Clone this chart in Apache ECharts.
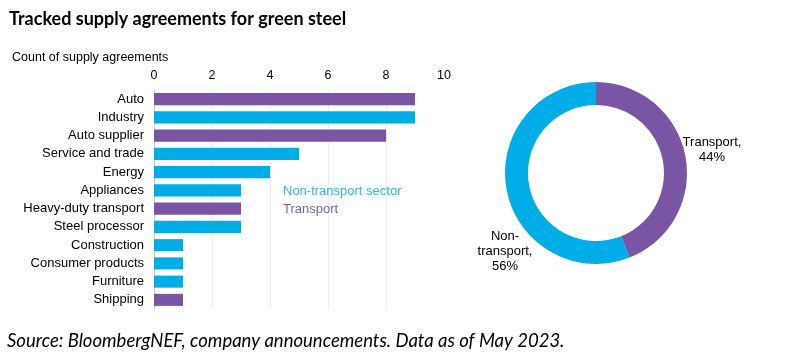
<!DOCTYPE html>
<html>
<head>
<meta charset="utf-8">
<script src="https://cdn.jsdelivr.net/npm/echarts@6/dist/echarts.min.js"></script>
<style>
html,body{margin:0;padding:0;background:#fff;}
#chart{width:812px;height:362px;}
</style>
</head>
<body>
<div id="chart"></div>
<script>
const categories = ['Auto','Industry','Auto supplier','Service and trade','Energy','Appliances','Heavy-duty transport','Steel processor','Construction','Consumer products','Furniture','Shipping'];
const counts = [9,9,8,5,4,3,3,3,1,1,1,1];
const sectors = ['T','N','T','N','N','N','T','N','N','N','N','T'];
const xTicks = [0,2,4,6,8,10];
const pieNames = ['Transport','Non-transport'];
const pieValues = [44,56];

const PURPLE = '#7A55A3';
const BLUE = '#00ADE6';

const nonTransport = counts.map((v,i)=> sectors[i]==='N' ? v : '-');
const transport = counts.map((v,i)=> sectors[i]==='T' ? v : '-');

const chart = echarts.init(document.getElementById('chart'));
chart.setOption({
  backgroundColor:'#fff',
  animation:false,
  title:[
    {text:'Tracked supply agreements for green steel', left:4, top:5,
     textStyle:{fontFamily:'Lato', fontWeight:'bold', fontSize:18, color:'#000'}},
    {text:'Source: BloombergNEF, company announcements. Data as of May 2023.', left:2, top:327,
     textStyle:{fontFamily:'Lato', fontStyle:'italic', fontWeight:'normal', fontSize:18.5, color:'#000'}},
    {text:'Count of supply agreements', left:7, top:46,
     textStyle:{fontFamily:'Liberation Sans', fontWeight:'normal', fontSize:12.5, color:'#000'}}
  ],
  legend:{
    orient:'vertical', left:273, top:180, itemGap:5, icon:'none', itemWidth:0, itemHeight:0,
    selectedMode:false,
    data:[
      {name:'Non-transport sector', textStyle:{color:'#3AB4D8'}},
      {name:'Transport', textStyle:{color:'#7E63A2'}}
    ],
    textStyle:{fontFamily:'Liberation Sans', fontSize:13}
  },
  grid:{left:154, top:90, width:290, height:219, containLabel:false},
  xAxis:{
    type:'value', position:'top', min:0, max:10, interval:2,
    axisLine:{show:false}, axisTick:{show:false},
    axisLabel:{color:'#000', fontFamily:'Liberation Sans', fontSize:12.5, margin:8,
      formatter:(v)=> xTicks.includes(v) ? String(v) : ''},
    splitLine:{show:true, showMaxLine:false, lineStyle:{color:'#ECECEC', width:1}}
  },
  yAxis:{
    type:'category', data:categories, inverse:true,
    axisLine:{show:true, lineStyle:{color:'#C8C8C8'}}, axisTick:{show:false},
    axisLabel:{color:'#000', fontFamily:'Liberation Sans', fontSize:13, margin:10}
  },
  series:[
    {name:'Non-transport sector', type:'bar', stack:'s', data:nonTransport, barCategoryGap:'34%',
     itemStyle:{color:BLUE}},
    {name:'Transport', type:'bar', stack:'s', data:transport, barCategoryGap:'34%',
     itemStyle:{color:PURPLE}},
    {name:'Share', type:'pie', center:[596,173], radius:[68,91], startAngle:90, clockwise:true,
     data:[
       {name:pieNames[0], value:pieValues[0], itemStyle:{color:PURPLE}},
       {name:pieNames[1], value:pieValues[1], itemStyle:{color:BLUE}}
     ],
     label:{show:true, position:'outside', color:'#000', fontFamily:'Liberation Sans', fontSize:13,
       lineHeight:15,
       formatter:(p)=> p.name==='Transport' ? 'Transport,\n'+p.value+'%' : 'Non-\ntransport,\n'+p.value+'%'},
     labelLine:{show:false, length:4, length2:0},
     labelLayout:(p)=> p.dataIndex===0
        ? {x:712, y:150, align:'center', verticalAlign:'middle'}
        : {x:505, y:251, align:'center', verticalAlign:'middle'},
     emphasis:{disabled:true}, silent:true}
  ]
});
</script>
</body>
</html>
